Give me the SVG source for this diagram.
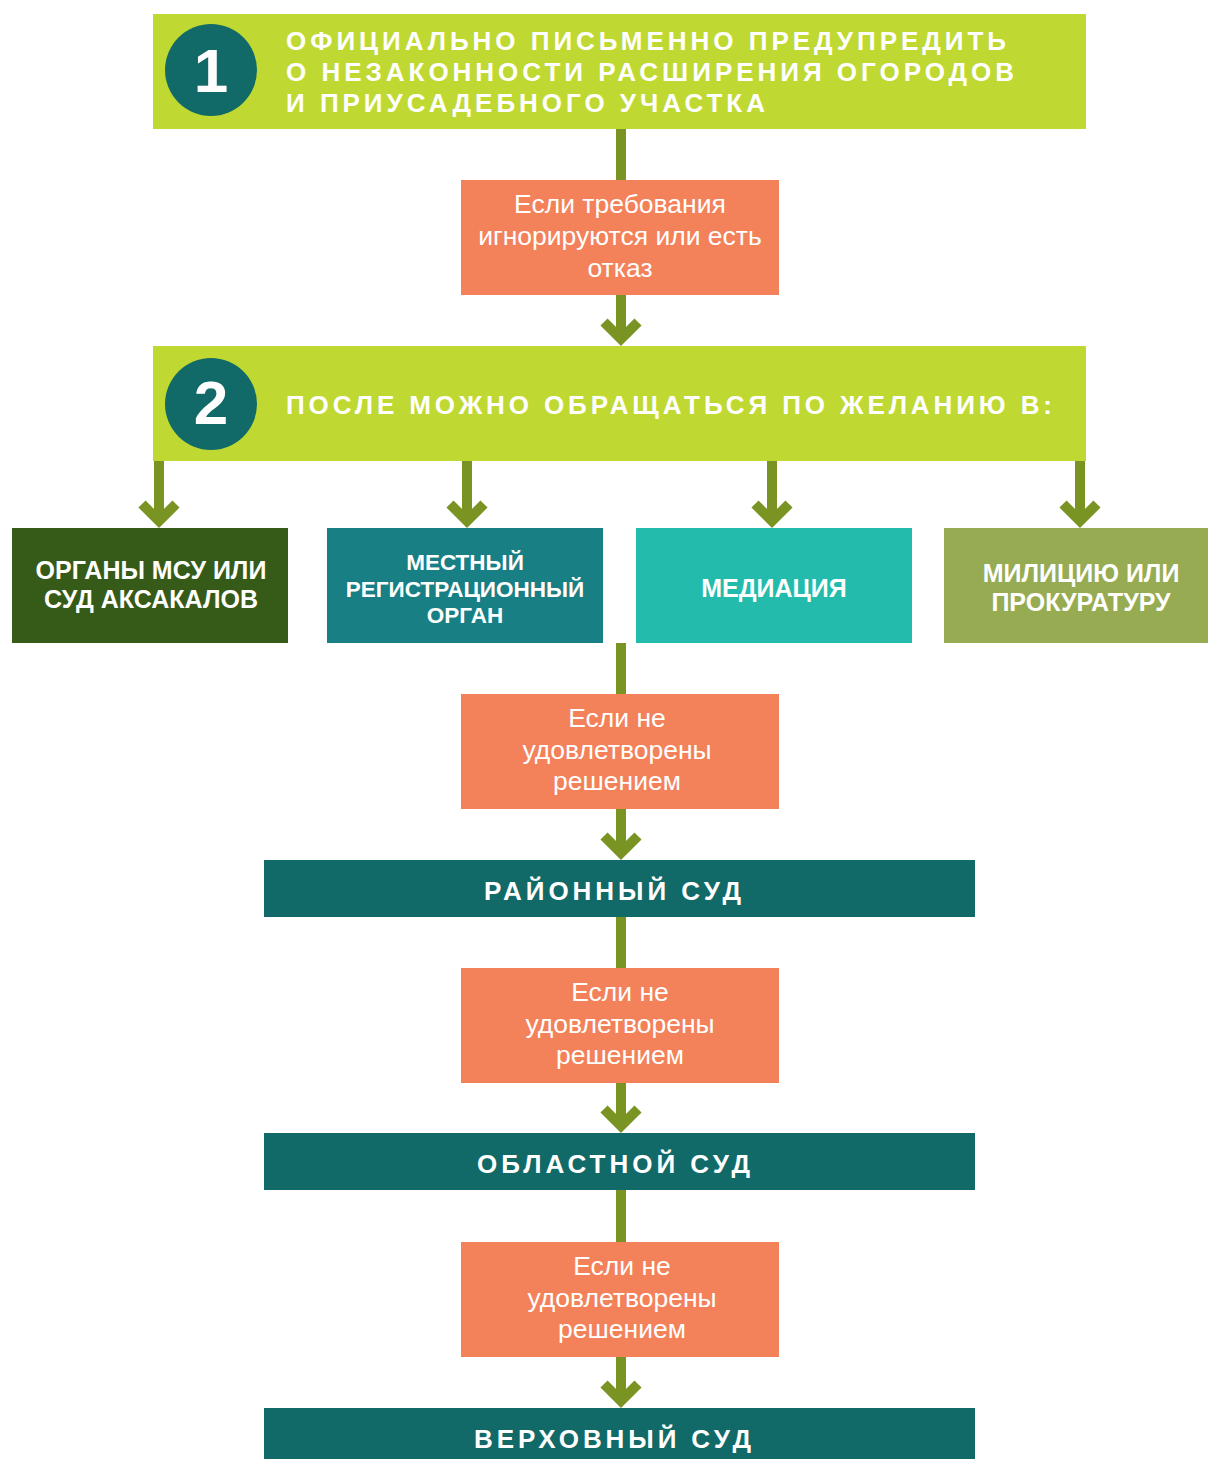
<svg xmlns="http://www.w3.org/2000/svg" xmlns:xlink="http://www.w3.org/1999/xlink" width="1208" height="1459" viewBox="0 0 1208 1459">
<style>
.lime{fill:#BFD932}
.badge{fill:#116A68}
.num{font-family:"Liberation Sans",Arial,sans-serif;font-weight:bold;font-size:62px;fill:#fff;text-anchor:middle}
.head{font-family:"Liberation Sans",Arial,sans-serif;font-weight:bold;font-size:26px;fill:#fff}
.cond{fill:#F3815A}
.ctext{font-family:"Liberation Sans",Arial,sans-serif;font-size:26.5px;fill:#fff;text-anchor:middle}
.opt{font-family:"Liberation Sans",Arial,sans-serif;font-weight:bold;font-size:25px;fill:#fff;text-anchor:middle}
.opt2{font-family:"Liberation Sans",Arial,sans-serif;font-weight:bold;font-size:22.5px;fill:#fff;text-anchor:middle}
.court{fill:#116A68}
.ctitle{font-family:"Liberation Sans",Arial,sans-serif;font-weight:bold;font-size:26px;fill:#fff}
.stem{fill:#7A9424}
</style>
<defs>
<g id="chev"><polyline points="-17,-24 0,-7 17,-24" fill="none" stroke="#7A9424" stroke-width="10" stroke-linejoin="miter" stroke-miterlimit="4"/></g>
</defs>
<g id="connectors">
<rect class="stem" x="616" y="129" width="10" height="212"/>
<use xlink:href="#chev" href="#chev" x="621" y="346"/>
<rect class="stem" x="154" y="461" width="10" height="62"/>
<use xlink:href="#chev" href="#chev" x="159" y="528"/>
<rect class="stem" x="462" y="461" width="10" height="62"/>
<use xlink:href="#chev" href="#chev" x="467" y="528"/>
<rect class="stem" x="767" y="461" width="10" height="62"/>
<use xlink:href="#chev" href="#chev" x="772" y="528"/>
<rect class="stem" x="1075" y="461" width="10" height="62"/>
<use xlink:href="#chev" href="#chev" x="1080" y="528"/>
<rect class="stem" x="616" y="643" width="10" height="212"/>
<use xlink:href="#chev" href="#chev" x="621" y="860"/>
<rect class="stem" x="616" y="917" width="10" height="211"/>
<use xlink:href="#chev" href="#chev" x="621" y="1133"/>
<rect class="stem" x="616" y="1190" width="10" height="213"/>
<use xlink:href="#chev" href="#chev" x="621" y="1408"/>
</g>
<g id="step1">
<rect class="lime" x="153" y="14" width="933" height="115"/>
<circle class="badge" cx="211" cy="70" r="46"/>
<text class="num" x="211" y="92">1</text>
<text class="head" x="286" y="50" textLength="720" lengthAdjust="spacing">ОФИЦИАЛЬНО ПИСЬМЕННО ПРЕДУПРЕДИТЬ</text>
<text class="head" x="286" y="81" textLength="728" lengthAdjust="spacing">О НЕЗАКОННОСТИ РАСШИРЕНИЯ ОГОРОДОВ</text>
<text class="head" x="286" y="112" textLength="479" lengthAdjust="spacing">И ПРИУСАДЕБНОГО УЧАСТКА</text>
</g>
<g id="cond1">
<rect class="cond" x="461" y="180" width="318" height="115"/>
<text class="ctext" x="620" y="213">Если требования</text>
<text class="ctext" x="620" y="245">игнорируются или есть</text>
<text class="ctext" x="620" y="277">отказ</text>
</g>
<g id="step2">
<rect class="lime" x="153" y="346" width="933" height="115"/>
<circle class="badge" cx="211" cy="404" r="46"/>
<text class="num" x="211" y="424">2</text>
<text class="head" x="286" y="414" textLength="766" lengthAdjust="spacing">ПОСЛЕ МОЖНО ОБРАЩАТЬСЯ ПО ЖЕЛАНИЮ В:</text>
</g>
<g id="opt1">
<rect fill="#365A17" x="12" y="528" width="276" height="115"/>
<text class="opt" x="151" y="579">ОРГАНЫ МСУ ИЛИ</text>
<text class="opt" x="151" y="608">СУД АКСАКАЛОВ</text>
</g>
<g id="opt2">
<rect fill="#187F85" x="327" y="528" width="276" height="115"/>
<text class="opt2" x="465" y="570">МЕСТНЫЙ</text>
<text class="opt2" x="465" y="597">РЕГИСТРАЦИОННЫЙ</text>
<text class="opt2" x="465" y="623">ОРГАН</text>
</g>
<g id="opt3">
<rect fill="#23BBAC" x="636" y="528" width="276" height="115"/>
<text class="opt" x="774" y="597">МЕДИАЦИЯ</text>
</g>
<g id="opt4">
<rect fill="#97AB52" x="944" y="528" width="264" height="115"/>
<text class="opt" x="1081" y="582">МИЛИЦИЮ ИЛИ</text>
<text class="opt" x="1081" y="611">ПРОКУРАТУРУ</text>
</g>
<g id="cond2">
<rect class="cond" x="461" y="694" width="318" height="115"/>
<text class="ctext" x="617" y="727">Если не</text>
<text class="ctext" x="617" y="759">удовлетворены</text>
<text class="ctext" x="617" y="790">решением</text>
</g>
<g id="court1">
<rect class="court" x="264" y="860" width="711" height="57"/>
<text class="ctitle" x="484" y="900" textLength="257" lengthAdjust="spacing">РАЙОННЫЙ СУД</text>
</g>
<g id="cond3">
<rect class="cond" x="461" y="968" width="318" height="115"/>
<text class="ctext" x="620" y="1001">Если не</text>
<text class="ctext" x="620" y="1033">удовлетворены</text>
<text class="ctext" x="620" y="1064">решением</text>
</g>
<g id="court2">
<rect class="court" x="264" y="1133" width="711" height="57"/>
<text class="ctitle" x="477" y="1173" textLength="273" lengthAdjust="spacing">ОБЛАСТНОЙ СУД</text>
</g>
<g id="cond4">
<rect class="cond" x="461" y="1242" width="318" height="115"/>
<text class="ctext" x="622" y="1275">Если не</text>
<text class="ctext" x="622" y="1307">удовлетворены</text>
<text class="ctext" x="622" y="1338">решением</text>
</g>
<g id="court3">
<rect class="court" x="264" y="1408" width="711" height="51"/>
<text class="ctitle" x="474" y="1448" textLength="277" lengthAdjust="spacing">ВЕРХОВНЫЙ СУД</text>
</g>
</svg>
